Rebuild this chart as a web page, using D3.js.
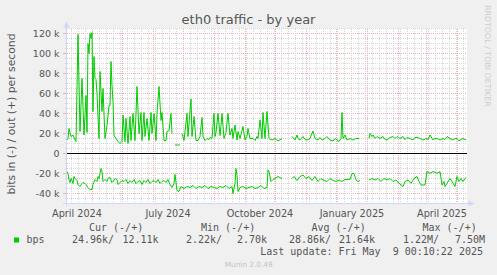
<!DOCTYPE html>
<html><head><meta charset="utf-8">
<script src="https://cdn.jsdelivr.net/npm/d3@7/dist/d3.min.js"></script>
<style>body{margin:0;background:#f0f0f0}svg{display:block}text{white-space:pre}</style>
</head><body>
<svg id="chart" width="497" height="275"></svg>
<script>
// ---- data (k bits per second) ----
const startDate = new Date(2024, 2, 7);
const endDate = new Date(2025, 3, 11);
// [day offset from startDate, value]  null = no data
const outPoints = [[0,13.5],[1,15],[2,25],[4,17],[6,18.5],[8,13.5],[9,12],[11,119],[13,22],[15,75],[17,18.5],[19,58],[20,21],[21,110],[22,100],[23,120],[24,115],[25,121],[26,42],[27,97],[28,75],[29,74],[30,60],[32,15],[33,82],[35,42],[36,65],[38,15],[40,28],[42,48],[43,48],[44,92],[45,68],[46,52],[47,18],[49,15],[51,12],[53,10],[55,12],[56,38.5],[58,12],[59,35],[61,10],[63,37],[64,13],[66,40],[68,13],[70,67],[72,20],[74,41],[75,13],[77,41],[78,17],[80,35],[82,13],[84,41],[85,20],[87,40],[89,13],[90,40],[92,67],[94,33],[95,41],[97,13],[99,13],[100,22],[102,23],[104,40],[105,20],[106,null],[108,8.5],[113,8.5],[114,null],[115,20],[117,13],[120,40],[121,17],[124,54.5],[125,17],[127,37],[129,13],[131,13],[133,17],[135,36],[136,17],[138,13],[140,15],[142,14],[143,16],[145,15],[147,40],[148,17],[149,21],[151,40],[153,18],[154,28],[155,40],[157,15],[159,21],[161,40],[163,18.5],[165,25],[166,15],[168,28.5],[170,13.5],[171,21.8],[173,15],[176,27],[178,13.5],[180,17],[181,25],[183,15],[186,15],[188,13],[190,17],[191,15],[193,33.5],[195,15],[196,41],[198,15],[200,42],[202,15],[205,13.5],[208,15],[211,12.5],[215,15],[216,null],[225,17],[228,13.5],[230,18.5],[231,15],[233,13.5],[236,17],[238,14],[240,13.5],[243,15],[246,22.5],[248,15],[251,13.5],[253,16],[255,13.5],[258,15],[260,17],[263,13.5],[266,12.5],[268,15],[270,13.5],[272,12],[274,15],[275,41],[276,15],[278,18.5],[280,13.5],[283,15],[286,13.5],[289,15],[292,15],[293,null],[302,15],[303,20],[305,17],[306,18.5],[308,15],[310,17],[313,15],[316,17],[318,14],[320,13.5],[323,16],[326,17],[328,15],[330,17],[333,15],[336,17],[338,14],[340,16],[343,15],[346,13.5],[348,16],[350,16],[353,15],[356,13.5],[359,15],[361,14],[363,18.5],[366,13.5],[368,15],[370,15],[373,13.5],[376,15],[378,14],[380,17],[383,15],[386,13.5],[388,15],[390,15],[392,12.5],[393,13.5],[396,15],[399,13.5]];
const inPoints = [[0,18],[1,20],[2,26],[3,29],[4,25],[5,27],[6,30],[7,23],[8,25],[10,27],[11,31],[13,33],[15,30],[16,29],[18,30],[19,31],[21,34],[23,36],[25,36],[26,31],[28,26],[30,28],[31,23],[32,25],[34,15],[35,18],[36,28],[38,26],[40,28],[41,25],[43,24],[45,29],[46,28],[48,25],[50,26],[51,31],[53,29],[55,27],[57,28],[59,26],[61,30],[63,27],[65,29],[67,26],[69,30],[71,28],[73,27],[75,31],[77,27],[79,29],[81,26],[83,30],[85,28],[87,27],[89,29],[91,26],[93,30],[95,28],[97,27],[99,29],[101,26],[103,31],[105,34],[107,30],[108,21],[110,37],[112,38],[114,33],[117,35],[120,33],[123,34],[126,32],[129,35],[132,33],[135,34],[138,32],[141,35],[144,33],[147,34],[150,35],[153,33],[156,34],[159,32],[162,35],[165,33],[166,40],[168,30],[169,15],[170,22],[171,38],[173,34],[176,33],[179,35],[182,34],[185,33],[188,35],[191,34],[194,32],[197,35],[200,34],[201,16.5],[202,18],[204,28],[206,26],[208,25],[211,23],[213,24],[215,25],[216,null],[225,25],[227,23],[230,27],[233,23],[236,21.5],[239,25],[242,23],[245,27],[248,23],[251,28],[254,25],[257,27],[260,28],[263,25],[266,27],[269,28],[272,26.5],[275,28],[278,26],[283,26],[285,20],[287,20],[289,26.5],[291,28],[293,27],[294,null],[302,26.5],[305,25],[308,26.5],[311,25],[314,28],[317,25],[320,26.5],[323,25],[326,28],[329,26.5],[332,29.8],[336,33],[338,28],[341,26.5],[344,29.8],[347,25],[350,23],[352,28],[354,31.5],[358,31.5],[360,18],[363,19.8],[366,18],[370,19.8],[373,18],[375,31.5],[377,28],[378,33],[380,29.8],[383,25],[385,28],[388,33],[390,23],[392,28],[394,25],[396,28],[399,24]];
const yTickValues = [120,100,80,60,40,20,0,-20,-40];
const xLabelDates = [new Date(2024,3,1), new Date(2024,6,1), new Date(2024,9,1), new Date(2025,0,1), new Date(2025,3,1)];
const xLabelTexts = ["April 2024","July 2024","October 2024","January 2025","April 2025"];
const legendHeads = ["Cur (-/+)","Min (-/+)","Avg (-/+)","Max (-/+)"];
const legendInVals = ["24.96k/","2.22k/","28.86k/","1.22M/"];
const legendOutVals = ["12.11k","2.70k","21.64k","7.50M"];
const seriesName = "bps";
const titleText = "eth0 traffic - by year";
const yLabelText = "bits in (-) / out (+) per second";
const lastUpdate = "Last update: Fri May  9 00:10:22 2025";
const footer = "Munin 2.0.49";
const watermark = "RRDTOOL / TOBI OETIKER";

// ---- layout ----
const svg = d3.select("#chart");
const L = 67, R = 467, T = 28.5, B = 203.5;
const x = d3.scaleTime().domain([startDate, endDate]).range([L, R]);
const y = d3.scaleLinear().domain([-50, 125]).range([B, T]);
const day = d => d3.timeDay.offset(startDate, d);
const px = v => Math.round(v) + 0.5;

svg.append("rect").attr("width",497).attr("height",275).attr("fill","#f0f0f0");
svg.append("rect").attr("x",L).attr("y",T).attr("width",R-L).attr("height",B-T).attr("fill","#ffffff");

const grid = svg.append("g").attr("shape-rendering","crispEdges");
// horizontal grid
d3.range(-50, 126, 5).forEach(v => {
  const major = v % 20 === 0;
  grid.append("line").attr("x1",L).attr("x2",R).attr("y1",px(y(v)-0.5)).attr("y2",px(y(v)-0.5))
    .attr("stroke", major ? "#eeb0b0" : "#d6d6d6").attr("stroke-dasharray","1,1");
  grid.append("line").attr("x1",major?63:65).attr("x2",67).attr("y1",px(y(v)-0.5)).attr("y2",px(y(v)-0.5))
    .attr("stroke", major ? "#eeb0b0" : "#d6d6d6");
});
// vertical grid
const months = d3.timeMonth.range(d3.timeDay.offset(startDate,1), endDate);
const monthSet = new Set(months.map(d=>+d));
d3.timeMonday.range(startDate, endDate).filter(d=>!monthSet.has(+d)).forEach(d => {
  grid.append("line").attr("x1",px(x(d))).attr("x2",px(x(d))).attr("y1",T).attr("y2",B)
    .attr("stroke","#d6d6d6").attr("stroke-dasharray","1,1");
});
months.forEach(d => {
  grid.append("line").attr("x1",px(x(d))).attr("x2",px(x(d))).attr("y1",T).attr("y2",B)
    .attr("stroke","#eeb0b0").attr("stroke-dasharray","1,1");
});

// zero rule
svg.append("line").attr("x1",L).attr("x2",R).attr("y1",y(0)).attr("y2",y(0))
  .attr("stroke","#000").attr("stroke-width",1).attr("shape-rendering","crispEdges");

// series
const line = d3.line().defined(p => p[1] != null).x(p => x(day(p[0]))).y(p => p[1]);
svg.append("path").datum(outPoints.map(p=>[p[0], p[1]==null?null:y(p[1])]))
  .attr("d", line).attr("fill","none").attr("stroke","#00cc00").attr("stroke-width",1);
svg.append("path").datum(inPoints.map(p=>[p[0], p[1]==null?null:y(-p[1])]))
  .attr("d", line).attr("fill","none").attr("stroke","#00cc00").attr("stroke-width",1);

// axes
const axisCol = "#cfd6f8";
svg.append("line").attr("x1",66.5).attr("x2",66.5).attr("y1",B+3).attr("y2",25).attr("stroke",axisCol);
svg.append("path").attr("d","M63.5,27.5 L69.5,27.5 L66.5,21.5 Z").attr("fill",axisCol);
svg.append("line").attr("x1",63).attr("x2",470).attr("y1",B).attr("y2",B).attr("stroke",axisCol);
svg.append("path").attr("d","M468.5,200.5 L468.5,206.5 L474.5,203.5 Z").attr("fill",axisCol);

const font = "'DejaVu Sans', sans-serif";
const mono = "'DejaVu Sans Mono', monospace";
const txtCol = "#555555";
// y tick labels
svg.append("g").selectAll("text").data(yTickValues).join("text")
  .attr("x",59.5).attr("y",v=>y(v)+3.5).attr("text-anchor","end")
  .attr("font-family",font).attr("font-size",9.5).attr("fill",txtCol)
  .text(v => v === 0 ? "0" : `${v} k`);
// x labels
svg.append("g").selectAll("text").data(xLabelDates).join("text")
  .attr("x",(d)=>x(d)-15).attr("y",216.5).attr("text-anchor","middle")
  .attr("font-family",font).attr("font-size",9.7).attr("fill",txtCol)
  .text((d,i)=>xLabelTexts[i]);
// title
svg.append("text").attr("x",248.5).attr("y",24).attr("text-anchor","middle")
  .attr("font-family",font).attr("font-size",13).attr("fill",txtCol).text(titleText);
// y label
svg.append("text").attr("transform","translate(14.5,114) rotate(-90)").attr("text-anchor","middle")
  .attr("font-family",font).attr("font-size",10.8).attr("fill",txtCol).text(yLabelText);
// watermark
svg.append("text").attr("transform","translate(485,5) rotate(90)")
  .attr("font-family",font).attr("font-size",7.9).attr("fill","#cccccc").text(watermark);

// legend
const lg = svg.append("g").attr("font-family",mono).attr("font-size",10).attr("fill",txtCol);
const headX = [89, 201, 311.5, 422.5];
const inX = [72, 186, 289, 403];
const outX = [122.5, 237, 339, 455];
legendHeads.forEach((t,i)=> lg.append("text").attr("x",headX[i]).attr("y",231).text(t));
svg.append("rect").attr("x",14).attr("y",237.5).attr("width",5).attr("height",5).attr("fill","#00cc00");
lg.append("text").attr("x",26.5).attr("y",243).text(seriesName);
legendInVals.forEach((t,i)=> lg.append("text").attr("x",inX[i]).attr("y",243).text(t));
legendOutVals.forEach((t,i)=> lg.append("text").attr("x",outX[i]).attr("y",243).text(t));
lg.append("text").attr("x",483).attr("y",254.5).attr("text-anchor","end").text(lastUpdate);
svg.append("text").attr("x",248.7).attr("y",266.5).attr("text-anchor","middle")
  .attr("font-family",font).attr("font-size",7.3).attr("fill","#c4c4c4").text(footer);
</script>
</body></html>
